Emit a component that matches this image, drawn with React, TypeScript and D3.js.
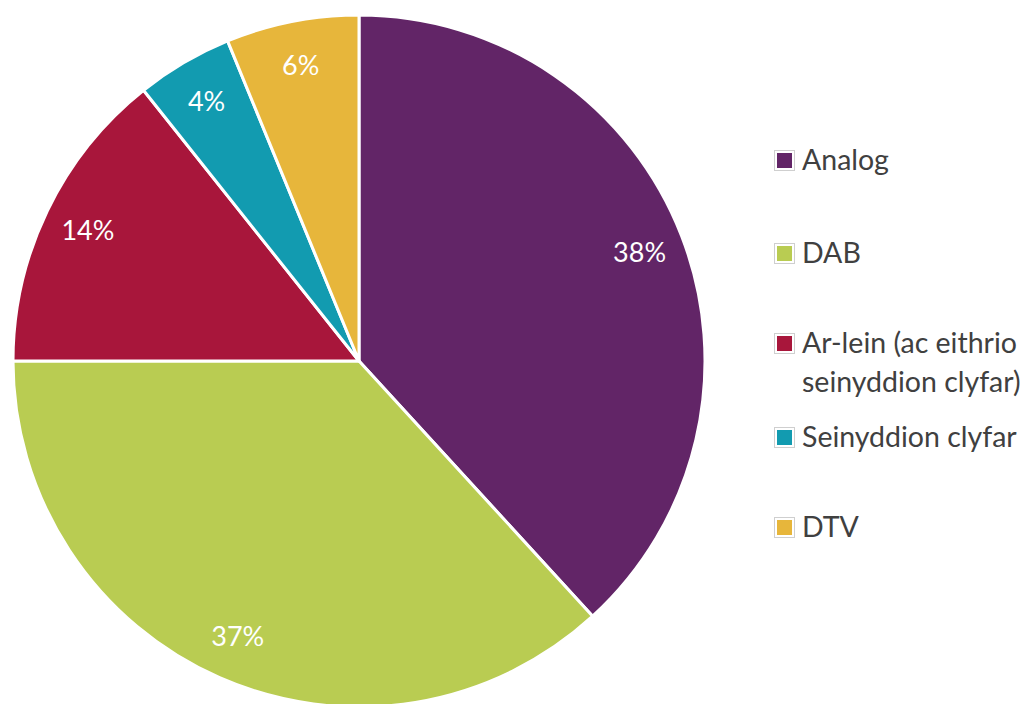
import React from "react";
import * as d3 from "d3";

const categories = ["Analog", "DAB", "Ar-lein (ac eithrio seinyddion clyfar)", "Seinyddion clyfar", "DTV"];
const legendLines = [["Analog"], ["DAB"], ["Ar-lein (ac eithrio", "seinyddion clyfar)"], ["Seinyddion clyfar"], ["DTV"]];
const values = [38.2, 36.8, 14.3, 4.5, 6.2];
const labels = ["38%", "37%", "14%", "4%", "6%"];
const colors = ["#622567", "#b9cc52", "#a8163b", "#129bb0", "#e7b63b"];
const legendY = [160, 253, 343, 437, 527];

export default function App() {
  const W = 1029, H = 704;
  const cx = 359, cy = 361, R = 346, labelR = 301;
  const pie = d3.pie<number>().sort(null).value((d) => d);
  const arcs = pie(values);
  const arc = d3.arc<d3.PieArcDatum<number>>().innerRadius(0).outerRadius(R);
  const labelArc = d3.arc<d3.PieArcDatum<number>>().innerRadius(labelR).outerRadius(labelR);
  const font = "Lato, 'Noto Sans', sans-serif";
  return (
    <svg width={W} height={H} style={{ position: "absolute", left: 0, top: 0, background: "#fff" }}>
      <g transform={`translate(${cx},${cy})`}>
        {arcs.map((a, i) => (
          <path key={i} d={arc(a) || ""} fill={colors[i]} stroke="#fff" strokeWidth={3} strokeLinejoin="round" />
        ))}
        {arcs.map((a, i) => {
          const [x, y] = labelArc.centroid(a);
          return (
            <text key={"l" + i} x={x} y={y} dy="0.36em" textAnchor="middle" fill="#fff" fontFamily={font} fontSize={27}>
              {labels[i]}
            </text>
          );
        })}
      </g>
      {categories.map((c, i) => (
        <g key={"g" + i} transform={`translate(774,${legendY[i]})`}>
          <rect x={0.5} y={-9.5} width={20} height={20} fill="#fff" stroke="#cfcfcf" strokeWidth={1} />
          <rect x={3} y={-7} width={15} height={15} fill={colors[i]} />
          {legendLines[i].map((ln, j) => (
            <text key={j} x={28} y={j * 39} dy="0.36em" fill="#404040" fontFamily={font} fontSize={28.5}>
              {ln}
            </text>
          ))}
        </g>
      ))}
    </svg>
  );
}
